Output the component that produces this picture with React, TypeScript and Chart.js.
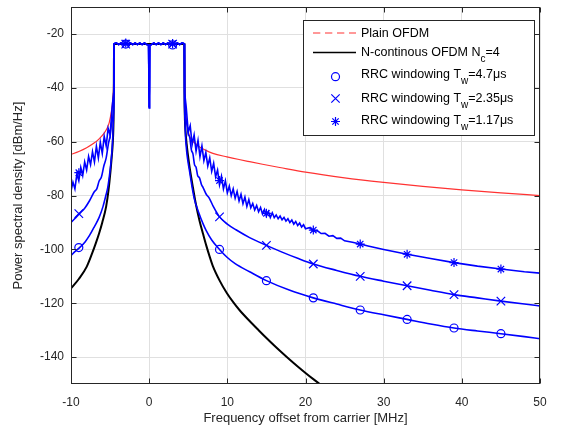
import { useEffect, useRef } from "react";
import { Chart, registerables } from "chart.js";

Chart.register(...registerables);

const FONT = "'Liberation Sans', Arial, Helvetica, sans-serif";

// Axis ticks
const xTicks = [-10, 0, 10, 20, 30, 40, 50];
const yTicks = [-140, -120, -100, -80, -60, -40, -20];

// Passband (shared by the windowed curves, with DC null)
const passX = [-4.5, -4.2, -3.9, -3.6, -3.3, -3.0, -2.7, -2.4, -2.1, -1.8, -1.5, -1.2, -0.9, -0.6, -0.3, -0.08, 0, 0.08, 0.3, 0.6, 0.9, 1.2, 1.5, 1.8, 2.1, 2.4, 2.7, 3.0, 3.3, 3.6, 3.9, 4.2, 4.5];
const passY = [-23.7, -23.3, -23.9, -23.3, -23.9, -23.2, -23.9, -23.3, -23.9, -23.3, -23.9, -23.3, -23.9, -23.3, -23.9, -24.0, -47.4, -24.0, -23.9, -23.3, -23.9, -23.3, -23.9, -23.3, -23.9, -23.3, -23.9, -23.4, -23.9, -23.3, -23.9, -23.3, -23.7];
const flatPassX = [-4.5, 4.5];
const flatPassY = [-23.7, -23.7];

// Plain OFDM
const plainLeftX = [-10, -9, -8, -7, -6.4, -5.8, -5.4, -5.1, -4.85, -4.65, -4.55];
const plainLeftY = [-64.7, -63.6, -62.2, -60.4, -58.9, -57.0, -55.1, -52.8, -49, -44, -38];
const plainRightX = [4.55, 4.65, 4.75, 5.0, 5.17, 5.6, 6.45, 7.2, 8.15, 9.95, 11.5, 12.85, 14.5, 16.7, 20, 25, 30, 35, 40, 45, 50];
const plainRightY = [-38, -46, -51, -56, -58, -59.8, -61.9, -63.1, -64.3, -65.6, -66.6, -67.4, -68.35, -69.55, -71.3, -73.4, -75.1, -76.6, -77.9, -79.0, -80.0];

// N-continuous OFDM Nc=4
const ncLeftX = [-10, -9, -8, -7.3, -6.8, -6.4, -6, -5.5, -5.2, -4.95, -4.8, -4.65, -4.56, -4.52];
const ncLeftY = [-114.5, -111, -106.5, -101.5, -97.5, -94, -90, -84, -78, -71, -66, -60, -52, -40];
const ncRightX = [4.52, 4.56, 4.65, 4.8, 4.95, 5.2, 5.6, 6.0, 6.45, 6.9, 7.3, 7.7, 8.15, 9.0, 9.95, 10.8, 11.6, 12.85, 14, 15, 16, 17, 18, 19, 20, 21, 22, 23];
const ncRightY = [-40, -50, -56, -61, -64.7, -70, -77, -83.5, -89.4, -94.3, -98.5, -102.3, -106.2, -111.5, -116.3, -119.8, -122.7, -126.6, -130, -132.9, -135.7, -138.4, -141, -143.5, -145.9, -148.2, -150.4, -152.5];

// RRC windowing Tw = 4.7 us
const rrc47LeftX = [-10, -9.5, -8.9, -8.2, -7.65, -7, -6.4, -5.9, -5.5, -5.3, -5.1, -4.9, -4.75, -4.65, -4.58, -4.52];
const rrc47LeftY = [-102.3, -100.8, -99.3, -97.2, -94.9, -91.5, -88.1, -84, -79.5, -77, -73, -68, -63, -58, -52, -42];
const rrc47RightX = [4.52, 4.58, 4.65, 4.75, 4.85, 5.0, 5.17, 5.5, 5.8, 6.3, 6.9, 7.3, 8, 9, 10, 11, 12.85, 15, 18, 21, 24, 27, 30, 33, 36, 39, 42, 45, 48, 50];
const rrc47RightY = [-42, -52, -58, -62, -65, -68, -71, -77, -81.5, -86, -90.5, -93, -96.5, -100, -103, -105.3, -108.3, -111.6, -115.2, -118, -120.3, -122.5, -124.3, -126, -127.7, -129.2, -130.3, -131.3, -132.4, -133.2];

// RRC windowing Tw = 2.35 us
const rrc235LeftX = [-10, -9.5, -8.9, -8.2, -7.65, -7, -6.7, -6.4, -6.1, -5.8, -5.5, -5.2, -5.0, -4.8, -4.6, -4.52];
const rrc235LeftY = [-90, -88.5, -86.7, -84.5, -82, -78.5, -77.5, -74.6, -73, -69, -66, -60.5, -58, -53, -50, -42];
const rrc235RightX = [4.52, 4.6, 4.8, 5.0, 5.2, 5.4, 5.6, 5.8, 6.0, 6.2, 6.45, 6.7, 6.9, 7.3, 7.7, 8.2, 9, 10, 11.1, 12.85, 15, 17, 19, 21, 24, 27, 30, 33, 36, 39, 42, 45, 48, 50];
const rrc235RightY = [-42, -50, -53, -57, -58.5, -63, -64.5, -68.5, -69.5, -72.5, -73.5, -76, -77, -79.5, -81, -84, -87.9, -90.6, -92.7, -95.6, -98.5, -101, -103.3, -105.4, -107.8, -110, -111.8, -113.5, -115.2, -116.8, -118, -119.2, -120.3, -121];

// RRC windowing Tw = 1.17 us (rippled sidelobes)
const rrc117LeftX = [-10, -9.75, -9.5, -9.25, -9, -8.75, -8.5, -8.25, -8, -7.75, -7.5, -7.25, -7, -6.75, -6.5, -6.25, -6, -5.75, -5.5, -5.25, -5, -4.75, -4.55];
const rrc117LeftY = [-78.3, -75, -77.5, -72, -74.5, -69.5, -72.5, -67.5, -70.5, -65.5, -68.5, -63.7, -67.5, -61.7, -66, -60.2, -64.3, -58, -61.5, -55, -57.5, -47.5, -42];
const rrc117RightX = [4.55, 4.75, 5.0, 5.25, 5.5, 5.75, 6.0, 6.25, 6.5, 6.75, 7.0, 7.25, 7.5, 7.75, 8.0, 8.25, 8.5, 8.75, 9.0, 9.25, 9.5, 9.75, 10.0, 10.25, 10.5, 10.75, 11.0, 11.25, 11.5, 11.75, 12.0, 12.25, 12.5, 12.75, 13.0, 13.25, 13.5, 13.75, 14.0, 14.25, 14.5, 14.75, 15.0, 15.25, 15.5, 15.75, 16.0, 16.25, 16.5, 16.75, 17.0, 17.25, 17.5, 17.75, 18.0, 18.25, 18.5, 18.75, 19.0, 19.25, 19.5, 19.75, 20.0, 20.5, 21, 21.5, 22, 22.5, 23, 23.5, 24, 24.5, 25, 26, 27, 28, 30, 33, 36, 39, 42, 45, 48, 50];
const rrc117RightY = [-42, -47.5, -56.5, -54, -61, -57.5, -63.5, -59.5, -65.5, -61.5, -67, -64, -69, -66, -71, -68, -73, -70.5, -76, -72.8, -77.5, -74.5, -79, -76.5, -80, -77.5, -81, -78.5, -82, -79.5, -83, -80.5, -84, -81.5, -84.5, -82.9, -85.3, -83.7, -86, -84.4, -86.8, -85.2, -87.6, -85.9, -88.1, -86.4, -88.2, -87.2, -88.6, -87.6, -89, -88.1, -89.5, -88.6, -90, -89.1, -90.6, -89.6, -91.1, -90.2, -91.7, -90.8, -92.3, -91.9, -93.1, -93.0, -94.1, -94.0, -95.1, -94.9, -95.9, -95.8, -96.8, -97.3, -98, -98.7, -100, -101.8, -103.4, -104.9, -106.2, -107.3, -108.3, -108.8];

// Marker positions and values
const markerX = [-9, -3, 3, 9, 15, 21, 27, 33, 39, 45];
const rrc47Marks = [-99.3, -23.7, -24.0, -100.0, -111.6, -118.0, -122.5, -126.0, -129.2, -131.3];
const rrc235Marks = [-86.7, -23.7, -23.7, -87.9, -98.5, -105.4, -110.0, -113.5, -116.8, -119.2];
const rrc117Marks = [-71.5, -23.3, -23.5, -74.4, -86.6, -92.8, -98.0, -101.8, -104.9, -107.3];

type Part = { t: string; sub?: boolean };
const legendPlain: Part[] = [{ t: "Plain OFDM" }];
const legendNc: Part[] = [{ t: "N-continous OFDM N" }, { t: "c", sub: true }, { t: "=4" }];
const legend47: Part[] = [{ t: "RRC windowing T" }, { t: "w", sub: true }, { t: "=4.7μs" }];
const legend235: Part[] = [{ t: "RRC windowing T" }, { t: "w", sub: true }, { t: "=2.35μs" }];
const legend117: Part[] = [{ t: "RRC windowing T" }, { t: "w", sub: true }, { t: "=1.17μs" }];

const BLUE = "#0000ff";
const RED = "rgb(255,50,50)";

function pts(xs: number[], ys: number[]) {
  return xs.map((x, i) => ({ x, y: ys[i] }));
}

function drawRich(ctx: CanvasRenderingContext2D, parts: Part[], x: number, baseline: number) {
  let cx = x;
  ctx.textBaseline = "alphabetic";
  ctx.textAlign = "left";
  for (const p of parts) {
    ctx.font = p.sub ? `10px ${FONT}` : `12.5px ${FONT}`;
    ctx.fillText(p.t, cx, p.sub ? baseline + 6 : baseline);
    cx += ctx.measureText(p.t).width;
  }
}

function marker(ctx: CanvasRenderingContext2D, kind: string, x: number, y: number) {
  ctx.beginPath();
  if (kind === "circle") {
    ctx.arc(x, y, 4, 0, Math.PI * 2);
  } else if (kind === "x") {
    const d = 4.2;
    ctx.moveTo(x - d, y - d); ctx.lineTo(x + d, y + d);
    ctx.moveTo(x - d, y + d); ctx.lineTo(x + d, y - d);
  } else {
    const r = 4.5, d = r * Math.SQRT1_2;
    ctx.moveTo(x, y - r); ctx.lineTo(x, y + r);
    ctx.moveTo(x - r, y); ctx.lineTo(x + r, y);
    ctx.moveTo(x - d, y - d); ctx.lineTo(x + d, y + d);
    ctx.moveTo(x - d, y + d); ctx.lineTo(x + d, y - d);
  }
  ctx.stroke();
}

const framePlugin = {
  id: "frameAndLegend",
  afterDraw(chart: any) {
    const { ctx, chartArea: a, scales } = chart;
    const xs = scales.x, ys = scales.y;
    ctx.save();
    ctx.strokeStyle = "#262626";
    ctx.lineWidth = 1;
    const L = Math.round(a.left) + 0.5, R = Math.round(a.right) - 0.5;
    const T = Math.round(a.top) + 0.5, B = Math.round(a.bottom) - 0.5;
    ctx.strokeRect(L, T, R - L, B - T);
    const tl = 5;
    ctx.beginPath();
    for (const v of xTicks) {
      const px = Math.round(xs.getPixelForValue(v)) + 0.5;
      ctx.moveTo(px, B); ctx.lineTo(px, B - tl);
      ctx.moveTo(px, T); ctx.lineTo(px, T + tl);
    }
    for (const v of yTicks) {
      const py = Math.round(ys.getPixelForValue(v)) + 0.5;
      ctx.moveTo(L, py); ctx.lineTo(L + tl, py);
      ctx.moveTo(R, py); ctx.lineTo(R - tl, py);
    }
    ctx.stroke();

    // Legend
    const bx = 303.5, by = 20.5, bw = 231, bh = 115;
    ctx.fillStyle = "#ffffff";
    ctx.fillRect(bx, by, bw, bh);
    ctx.strokeStyle = "#262626";
    ctx.lineWidth = 1;
    ctx.strokeRect(bx, by, bw, bh);

    const lx0 = 313, lx1 = 356, mx = 335.5, tx = 361;
    ctx.strokeStyle = RED;
    ctx.lineWidth = 1.2;
    ctx.setLineDash([7.3, 4.7]);
    ctx.beginPath(); ctx.moveTo(lx0, 33); ctx.lineTo(lx1, 33); ctx.stroke();
    ctx.setLineDash([]);
    ctx.strokeStyle = "#000";
    ctx.lineWidth = 1.5;
    ctx.beginPath(); ctx.moveTo(lx0, 52.5); ctx.lineTo(lx1, 52.5); ctx.stroke();

    ctx.strokeStyle = BLUE;
    ctx.lineWidth = 1.2;
    marker(ctx, "circle", mx, 76.7);
    marker(ctx, "x", mx, 98.5);
    marker(ctx, "star", mx, 121.5);

    ctx.fillStyle = "#000";
    drawRich(ctx, legendPlain, tx, 37.3);
    drawRich(ctx, legendNc, tx, 55.8);
    drawRich(ctx, legend47, tx, 77.8);
    drawRich(ctx, legend235, tx, 101.7);
    drawRich(ctx, legend117, tx, 124.3);
    ctx.restore();
  },
};

export default function App() {
  const ref = useRef<HTMLCanvasElement | null>(null);

  useEffect(() => {
    if (!ref.current) return;
    const lineBase = { pointRadius: 0, pointHoverRadius: 0, fill: false };
    const chart = new Chart(ref.current, {
      type: "line",
      data: {
        datasets: [
          { ...lineBase, label: "Plain OFDM", data: pts([...plainLeftX, ...flatPassX, ...plainRightX], [...plainLeftY, ...flatPassY, ...plainRightY]), borderColor: RED, borderWidth: 1.2, cubicInterpolationMode: "monotone", order: 5 },
          { ...lineBase, label: "N-continous OFDM", data: pts([...ncLeftX, ...flatPassX, ...ncRightX], [...ncLeftY, ...flatPassY, ...ncRightY]), borderColor: "#000000", borderWidth: 2, cubicInterpolationMode: "monotone", order: 4 },
          { ...lineBase, label: "RRC 4.7", data: pts([...rrc47LeftX, ...passX, ...rrc47RightX], [...rrc47LeftY, ...passY, ...rrc47RightY]), borderColor: BLUE, borderWidth: 1.6, cubicInterpolationMode: "monotone", order: 3 },
          { ...lineBase, label: "RRC 2.35", data: pts([...rrc235LeftX, ...passX, ...rrc235RightX], [...rrc235LeftY, ...passY, ...rrc235RightY]), borderColor: BLUE, borderWidth: 1.6, cubicInterpolationMode: "monotone", order: 2 },
          { ...lineBase, label: "RRC 1.17", data: pts([...rrc117LeftX, ...passX, ...rrc117RightX], [...rrc117LeftY, ...passY, ...rrc117RightY]), borderColor: BLUE, borderWidth: 1.6, tension: 0, order: 1 },
          { label: "m4.7", data: pts(markerX, rrc47Marks), showLine: false, pointStyle: "circle", pointRadius: 4, pointBorderColor: BLUE, pointBackgroundColor: "rgba(0,0,0,0)", pointBorderWidth: 1.2, order: 0 },
          { label: "m2.35", data: pts(markerX, rrc235Marks), showLine: false, pointStyle: "crossRot", pointRadius: 6, pointBorderColor: BLUE, pointBackgroundColor: "rgba(0,0,0,0)", pointBorderWidth: 1.2, order: 0 },
          { label: "m1.17", data: pts(markerX, rrc117Marks), showLine: false, pointStyle: "star", pointRadius: 4.5, pointBorderColor: BLUE, pointBackgroundColor: "rgba(0,0,0,0)", pointBorderWidth: 1.2, order: 0 },
        ] as any,
      },
      options: {
        animation: false,
        responsive: false,
        devicePixelRatio: 1,
        events: [],
        layout: { padding: { top: 6, right: 22, left: 0, bottom: 0 } },
        plugins: { legend: { display: false }, tooltip: { enabled: false } },
        scales: {
          x: {
            type: "linear",
            min: -10,
            max: 50,
            afterBuildTicks: (s: any) => { s.ticks = xTicks.map((v) => ({ value: v })); },
            afterFit: (s: any) => { s.height = 49; s.paddingLeft = 0; s.paddingRight = 0; },
            grid: { color: "#e0e0e0", drawTicks: false, lineWidth: 1 },
            border: { display: false },
            ticks: { padding: 11, color: "#262626", font: { family: FONT, size: 12 }, maxRotation: 0, autoSkip: false, callback: (v: any) => String(v) },
            title: { display: true, text: "Frequency offset from carrier [MHz]", color: "#262626", font: { family: FONT, size: 13 }, padding: { top: 0, bottom: 7 } },
          },
          y: {
            type: "linear",
            min: -150,
            max: -10,
            afterBuildTicks: (s: any) => { s.ticks = yTicks.map((v) => ({ value: v })); },
            afterFit: (s: any) => { s.width = 71; s.paddingTop = 0; s.paddingBottom = 0; },
            grid: { color: "#e0e0e0", drawTicks: false, lineWidth: 1 },
            border: { display: false },
            ticks: { padding: 7, color: "#262626", font: { family: FONT, size: 12 }, autoSkip: false, callback: (v: any) => String(v) },
            title: { display: true, text: "Power spectral density [dBm/Hz]", color: "#262626", font: { family: FONT, size: 13 }, padding: { top: 11, bottom: 0 } },
          },
        },
      } as any,
      plugins: [framePlugin],
    });
    return () => chart.destroy();
  }, []);

  return (
    <div style={{ position: "fixed", left: 0, top: 0, width: 562, height: 433, background: "#ffffff" }}>
      <canvas ref={ref} width={562} height={433} style={{ display: "block" }} />
    </div>
  );
}
